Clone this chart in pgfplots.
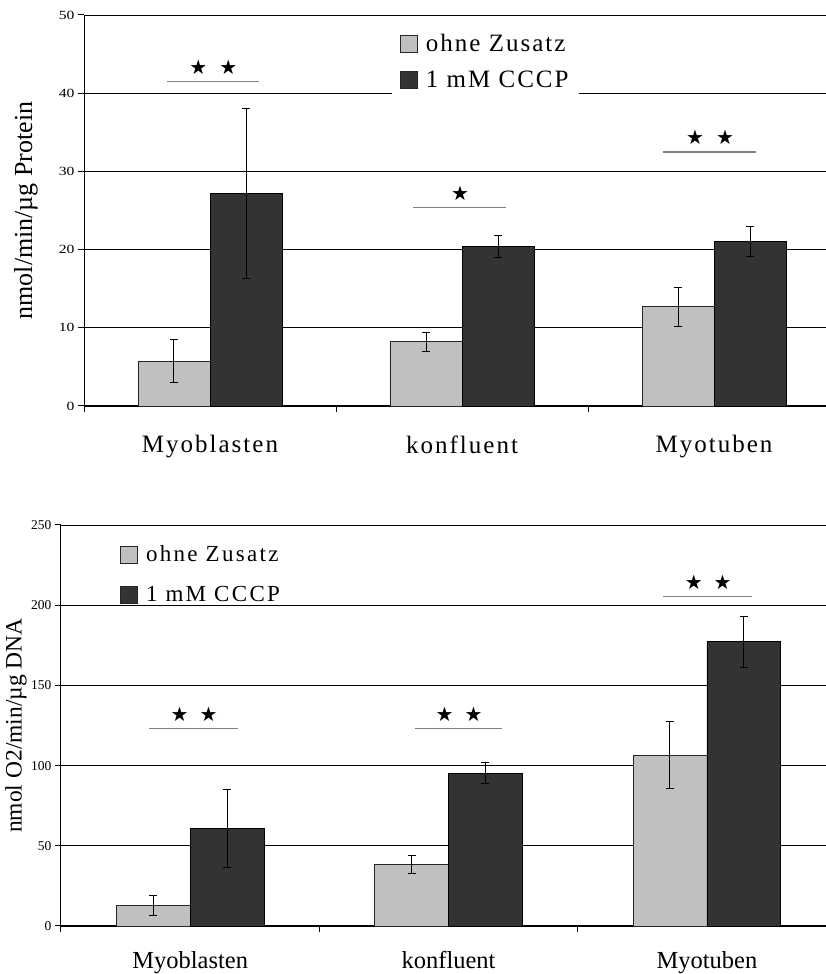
\documentclass[border=0pt]{standalone}
\usepackage{pgfplots}
\pgfplotsset{compat=1.18}
\usepackage{fontspec}
\setmainfont{Liberation Serif}
\newfontfamily\legA[LetterSpace=8]{Liberation Serif}
\newfontfamily\legB[LetterSpace=10]{Liberation Serif}
\newfontfamily\tickA[FakeStretch=1.25]{Liberation Serif}
\newfontfamily\sym{DejaVu Sans}
\definecolor{lightbar}{HTML}{C0C0C0}
\definecolor{darkbar}{HTML}{333333}
\definecolor{siggray}{HTML}{808080}

\tikzset{sigstar/.style={font=\sym\fontsize{20}{20}\selectfont, yshift=14.5pt}}
\pgfplotsset{
  myaxis/.style={
    scale only axis,
    xmin=-0.5,
    axis x line*=bottom, axis y line*=left,
    ymajorgrids, grid style={black, line width=0.8pt},
    tick align=outside, major tick length=6pt,
    xtick={-0.5,0.5,1.5}, xticklabels={},
    extra x ticks={0,1,2},
    extra x tick labels={Myoblasten,konfluent,Myotuben},
    extra x tick style={major tick length=0pt, grid=none},
    axis line style={black, line width=1pt},
    tick style={black, line width=1pt},
    legend image code/.code={\draw[#1,draw=black!85,line width=0.8pt] (0pt,-8.5pt) rectangle (17pt,8.5pt); \path (23pt,0pt);},
    legend cell align=left,
    clip=false,
    /pgf/number format/assume math mode=true,
  },
  lightbars/.style={ybar, bar width=0.286, bar shift=0, fill=lightbar, draw=black!85, line width=0.8pt,
    error bars/.cd, y dir=both, y explicit,
    error bar style={black, line width=1pt},
    error mark options={rotate=90, mark size=4pt, black, line width=1pt}},
  darkbars/.style={ybar, bar width=0.286, bar shift=0, fill=darkbar, draw=black, line width=0.8pt,
    error bars/.cd, y dir=both, y explicit,
    error bar style={black, line width=1pt},
    error mark options={rotate=90, mark size=4pt, black, line width=1pt}},
  sigline/.style={siggray, line width=1.4pt, no marks, forget plot},
}

\begin{document}
\begin{tikzpicture}
\path[use as bounding box] (0pt,0pt) rectangle (826pt,974pt);

% oben: Protein
\begin{axis}[myaxis,
  at={(84pt,568pt)}, anchor=south west,
  width=742pt, height=391pt,
  xmax=2.444, ymin=0, ymax=50, ytick={0,10,...,50},
  yticklabel style={font=\tickA\fontsize{12.5}{14}\selectfont},
  xticklabel style={font=\legA\fontsize{25}{30}\selectfont, yshift=-26pt},
  ylabel={nmol/min/µg Protein},
  ylabel style={font=\fontsize{26}{30}\selectfont, at={(axis description cs:-0.0782,0.5)}, anchor=center},
  legend style={draw=none, fill=white, font=\legA\fontsize{25}{30}\selectfont,
    at={(0.415,0.977)}, anchor=north west, inner xsep=8pt, inner ysep=8pt, row sep=14pt},
]
\addplot[lightbars] coordinates {(-0.143,5.75) +- (0,2.8) (0.857,8.2) +- (0,1.2) (1.857,12.7) +- (0,2.5)};
\addplot[darkbars] coordinates {(0.143,27.15) +- (0,10.9) (1.143,20.4) +- (0,1.4) (2.143,21.05) +- (0,1.95)};
\legend{ohne Zusatz, 1 mM CCCP\hspace{22pt}}
\addplot[sigline] coordinates {(-0.171,41.5) (0.194,41.5)};
\addplot[sigline] coordinates {(0.806,25.4) (1.175,25.4)};
\addplot[sigline] coordinates {(1.798,32.5) (2.167,32.5)};
\node[sigstar] at (axis cs:0.013,41.5) {★\hspace{12pt}★};
\node[sigstar] at (axis cs:0.992,25.4) {★};
\node[sigstar] at (axis cs:1.984,32.5) {★\hspace{12pt}★};
\end{axis}

% unten: DNA
\begin{axis}[myaxis,
  at={(61pt,48pt)}, anchor=south west,
  width=765pt, height=401pt,
  xmax=2.461, ymin=0, ymax=250, ytick={0,50,...,250},
  yticklabel style={font=\fontsize{13.5}{15}\selectfont},
  xticklabel style={font=\fontsize{24.5}{28}\selectfont, yshift=-22pt},
  ylabel={nmol O2/min/µg DNA},
  ylabel style={font=\fontsize{23.5}{28}\selectfont, at={(axis description cs:-0.0588,0.5)}, anchor=center},
  legend style={draw=none, fill=none, font=\legB\fontsize{23}{28}\selectfont,
    at={(0.0667,0.973)}, anchor=north west, inner xsep=8pt, inner ysep=8pt, row sep=19pt},
]
\addplot[lightbars] coordinates {(-0.143,12.8) +- (0,6.3) (0.857,38.4) +- (0,5.7) (1.857,106.5) +- (0,20.7)};
\addplot[darkbars] coordinates {(0.143,60.6) +- (0,24.3) (1.143,95.3) +- (0,6.6) (2.143,177.2) +- (0,16)};
\legend{ohne Zusatz, 1 mM CCCP}
\addplot[sigline] coordinates {(-0.159,123) (0.185,123)};
\addplot[sigline] coordinates {(0.870,123) (1.207,123)};
\addplot[sigline] coordinates {(1.831,205.4) (2.174,205.4)};
\node[sigstar] at (axis cs:0.015,123) {★\hspace{11pt}★};
\node[sigstar] at (axis cs:1.041,123) {★\hspace{11pt}★};
\node[sigstar] at (axis cs:2.005,205.4) {★\hspace{11pt}★};
\end{axis}
\end{tikzpicture}
\end{document}
